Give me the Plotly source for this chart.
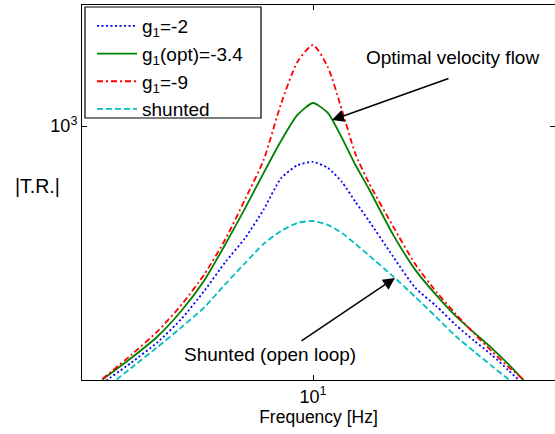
import plotly.graph_objects as go

# Frequency grid [Hz]
freq = [5, 5.5, 6, 6.5, 7, 7.5, 8, 8.5, 9, 9.5, 10, 10.5, 11, 11.5, 12, 13, 14, 15, 16, 17, 18, 19, 20]

# |T.R.| values
tr_g2 = [268, 298, 331, 374, 431, 499, 564, 652, 765, 818, 832, 807, 751, 678, 618, 514, 437, 398, 361, 333, 310, 287, 266]
tr_opt = [273, 305, 341, 390, 455, 547, 657, 786, 926, 1058, 1125, 1069, 940, 819, 728, 575, 479, 421, 378, 347, 321, 296, 272]
tr_g9 = [274, 310, 350, 402, 469, 561, 688, 840, 1119, 1388, 1514, 1352, 1085, 866, 751, 600, 493, 428, 382, 345, 316, 292, 273]
tr_shunt = [258, 290, 323, 358, 396, 446, 496, 547, 584, 609, 615, 603, 578, 547, 517, 464, 417, 376, 341, 315, 293, 274, 256]

series = [
    ("g<sub>1</sub>=-2", tr_g2, "#0000FF", "2px,2.5px"),
    ("g<sub>1</sub>(opt)=-3.4", tr_opt, "#008000", "solid"),
    ("g<sub>1</sub>=-9", tr_g9, "#FF0000", "6px,3px,2px,3px"),
    ("shunted", tr_shunt, "#00BFBF", "6px,3px"),
]

x_tickvals = [10]
x_ticktext = ["10<sup>1</sup>"]
y_tickvals = [1000]
y_ticktext = ["10<sup>3</sup>"]

FONT = "Liberation Sans, Arial, sans-serif"

# plot-area geometry in pixels (for placing decorations)
L, T, W, H = 82, 5, 473, 375
def px(xp):
    return (xp - L) / W
def py(yp):
    return (T + H - yp) / H

fig = go.Figure()
for name, vals, color, dash in series:
    fig.add_trace(go.Scatter(
        x=freq, y=vals, mode="lines", name=name,
        line=dict(color=color, width=1.8, dash=dash, shape="spline", smoothing=0.6),
    ))

fig.update_layout(
    width=555, height=434,
    margin=dict(l=L, r=555 - L - W, t=T, b=434 - T - H),
    paper_bgcolor="white", plot_bgcolor="white",
    font=dict(family=FONT, size=18, color="black"),
    showlegend=True,
    legend=dict(
        x=px(92), y=py(7), xanchor="left", yanchor="top",
        bgcolor="rgba(0,0,0,0)", borderwidth=0,
        font=dict(family=FONT, size=19, color="black"),
        tracegroupgap=0, itemwidth=40,
    ),
    shapes=[
        dict(type="rect", xref="paper", yref="paper",
             x0=px(85), x1=px(261), y0=py(118), y1=py(7),
             line=dict(color="black", width=1.2), fillcolor="white", layer="below"),
    ],
    xaxis=dict(
        type="log", range=[0.67, 1.34571],
        showgrid=False, zeroline=False,
        showline=True, linecolor="black", linewidth=1, mirror="ticks",
        ticks="inside", ticklen=5, tickcolor="black",
        tickvals=x_tickvals, ticktext=x_ticktext,
        tickfont=dict(family=FONT, size=18),
        title=dict(text="Frequency [Hz]", font=dict(family=FONT, size=17.5), standoff=0),
    ),
    yaxis=dict(
        type="log", range=[2.435556, 3.268889],
        showgrid=False, zeroline=False,
        showline=True, linecolor="black", linewidth=1, mirror="ticks",
        ticks="inside", ticklen=5, tickcolor="black",
        tickvals=y_tickvals, ticktext=y_ticktext,
        tickfont=dict(family=FONT, size=18),
    ),
    annotations=[
        dict(text="|T.R.|", xref="paper", yref="paper",
             x=px(37), y=py(186),
             showarrow=False, xanchor="center", yanchor="middle",
             font=dict(family=FONT, size=19.5)),
        dict(text="Optimal velocity flow", xref="paper", yref="paper",
             x=px(452), y=py(57),
             showarrow=False, xanchor="center", yanchor="middle",
             font=dict(family=FONT, size=19)),
        dict(text="", xref="paper", yref="paper",
             x=px(332), y=py(120),
             showarrow=True, ax=118, ay=-42, axref="pixel", ayref="pixel",
             arrowhead=2, arrowsize=1.6, arrowwidth=1.5, arrowcolor="black"),
        dict(text="Shunted (open loop)", xref="paper", yref="paper",
             x=px(270), y=py(354),
             showarrow=False, xanchor="center", yanchor="middle",
             font=dict(family=FONT, size=19)),
        dict(text="", xref="paper", yref="paper",
             x=px(395), y=py(278),
             showarrow=True, ax=-95, ay=64, axref="pixel", ayref="pixel",
             arrowhead=2, arrowsize=1.6, arrowwidth=1.5, arrowcolor="black"),
    ],
)

fig.write_html("out.html", config={"displayModeBar": False},
               post_script="document.body.style.margin='0';")
